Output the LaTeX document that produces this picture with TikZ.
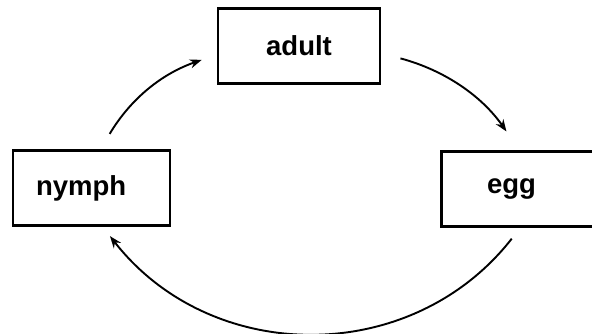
\documentclass[tikz,border=0pt]{standalone}
\usepackage{fontspec}
\setmainfont{Liberation Sans}
\usetikzlibrary{arrows.meta}
\tikzset{
  stage/.style={draw, line width=2.3pt, minimum height=75pt,
                font=\fontsize{27.5}{30}\selectfont\bfseries},
  stagearrow/.style={line width=1.9pt, -{Stealth[length=12pt, width=9pt]}},
}

\begin{document}
\begin{tikzpicture}[x=1pt, y=1pt]
    \clip (0,0) rectangle (592,333);
    % the three stages
    \node[stage, minimum width=162pt] (adult) at (299,287) {adult};
    \node[stage, inner xsep=23pt, text width=111pt, align=left]
         (nymph) at (91.5,145) {nymph};
    \node[stage, inner xsep=45.5pt, text width=64pt, align=left]
         (egg) at (519,144) {egg};
    % the cycle
    \draw[stagearrow, shorten <=18pt, shorten >=16pt]
         (nymph.77) to[bend left=20] (adult.186);
    \draw[stagearrow, shorten <=20pt, shorten >=23pt]
         (adult.-5) to[bend left=20] (egg.89);
    \draw[stagearrow, shorten <=14pt, shorten >=12pt]
         (egg.-88) to[out=-128, in=-52, looseness=1.08] (nymph.-74);
  \end{tikzpicture}
\end{document}
